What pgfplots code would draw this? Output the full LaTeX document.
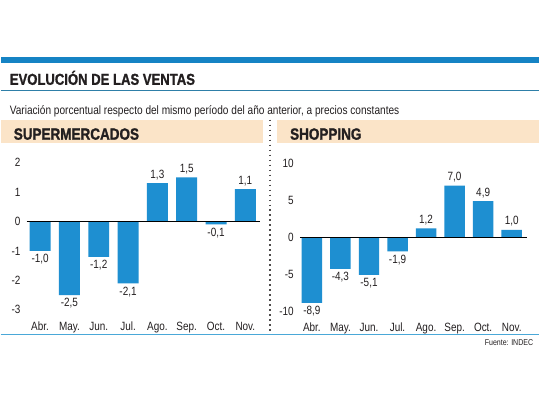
\documentclass[border=0pt]{standalone}
\usepackage{fontspec}
\setmainfont{Liberation Sans}[FakeStretch=0.83]
\newfontfamily\heavy{Liberation Sans Bold}[FakeStretch=0.83, FakeBold=1.3]
\usepackage{pgfplots}
\pgfplotsset{compat=1.18}

\definecolor{barblue}{HTML}{1E8FD1}
\definecolor{topblue}{HTML}{1683C4}
\definecolor{lineblue}{HTML}{4AA8D8}
\definecolor{rule}{HTML}{2E7FA8}
\definecolor{beige}{HTML}{FBE4C8}
\definecolor{ink}{HTML}{231F20}

\pgfplotsset{
  panel/.style={
    ybar, scale only axis, clip=false,
    axis line style={draw=none}, major tick length=0pt,
    xtick=data,
    xticklabels={Abr.,May.,Jun.,Jul.,Ago.,Sep.,Oct.,Nov.},
    tick label style={font=\fontsize{12}{13}\selectfont, text=ink},
    xticklabel style={anchor=base, inner sep=0pt, yshift=-21pt},
    yticklabel style={anchor=east, inner sep=0pt, xshift=-6pt},
    /pgf/number format/assume math mode=true,
    nodes near coords,
    every node near coord/.append style={font=\fontsize{12}{13}\selectfont, text=ink,
      /pgf/number format/fixed, /pgf/number format/fixed zerofill,
      /pgf/number format/precision=1, /pgf/number format/use comma,
      /pgf/number format/assume math mode=true},
  }
}

\begin{document}
\begin{tikzpicture}
\path[fill=white] (0,0) rectangle (540pt,405pt);
% header
\fill[topblue] (0,342pt) rectangle (540pt,348pt);
\node[anchor=base west, inner sep=0pt, text=ink] at (9pt,320pt)
  {\fontsize{15.8}{16}\heavy EVOLUCIÓN DE LAS VENTAS};
\draw[rule, line width=1.2pt] (0,314pt) -- (540pt,314pt);
\node[anchor=base west, inner sep=0pt, text=ink] at (9pt,290pt)
  {\fontsize{12.2}{13}\selectfont Variación porcentual respecto del mismo período del año anterior, a precios constantes};
\fill[beige] (0,262pt) rectangle (263pt,285pt);
\fill[beige] (277pt,262pt) rectangle (540pt,285pt);
\node[anchor=base west, inner sep=0pt, text=ink] at (13pt,265pt)
  {\fontsize{16.3}{17}\heavy SUPERMERCADOS};
\node[anchor=base west, inner sep=0pt, text=ink] at (290pt,265pt)
  {\fontsize{16.3}{17}\heavy SHOPPING};
\draw[ink!80, line width=1.2pt, dash pattern=on 1.5pt off 3.5pt] (270pt,285pt) -- (270pt,72pt);
% footer
\draw[lineblue, line width=1.3pt] (0,70pt) -- (540pt,70pt);
\node[anchor=base east, inner sep=0pt, text=ink] at (534pt,59pt)
  {\fontsize{8.5}{9}\selectfont Fuente: INDEC};

% SUPERMERCADOS
\begin{axis}[panel,
  at={(26pt,94.5pt)}, anchor=south west,
  width=234pt, height=147.5pt,
  xmin=-0.46, xmax=7.5, ymin=-3, ymax=2,
  ytick={-3,-2,-1,0,1,2},
  bar width=21pt]
  \addplot[draw=none, fill=barblue] coordinates {
    (0,-1.0) (1,-2.5) (2,-1.2) (3,-2.1) (4,1.3) (5,1.5) (6,-0.1) (7,1.1)};
  \draw[black, line width=1.3pt] ({rel axis cs:0,0}|-{axis cs:0,0}) -- ({rel axis cs:1,0}|-{axis cs:0,0});
\end{axis}

% SHOPPING
\begin{axis}[panel,
  at={(300pt,93.3pt)}, anchor=south west,
  width=228pt, height=147.7pt,
  xmin=-0.42, xmax=7.55, ymin=-10, ymax=10,
  ytick={-10,-5,0,5,10},
  bar width=20.5pt]
  \addplot[draw=none, fill=barblue] coordinates {
    (0,-8.9) (1,-4.3) (2,-5.1) (3,-1.9) (4,1.2) (5,7.0) (6,4.9) (7,1.0)};
  \draw[black, line width=1.3pt] ({rel axis cs:0,0}|-{axis cs:0,0}) -- ({rel axis cs:1,0}|-{axis cs:0,0});
\end{axis}
\end{tikzpicture}
\end{document}
